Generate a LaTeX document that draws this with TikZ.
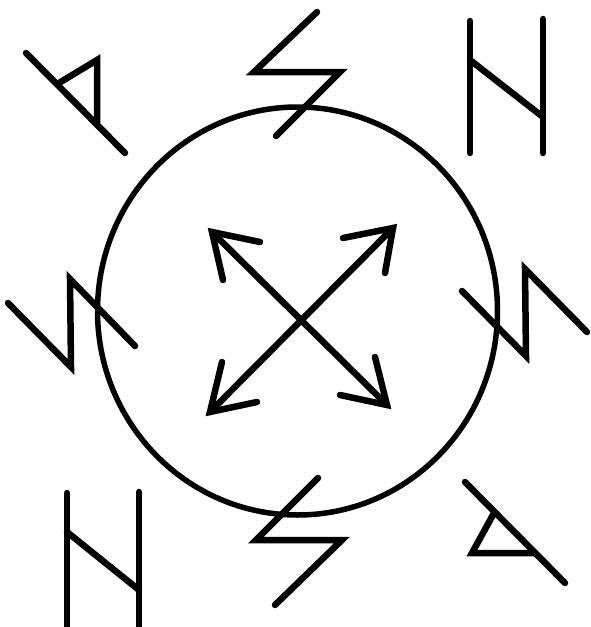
\documentclass[tikz,border=0pt]{standalone}
\begin{document}
\begin{tikzpicture}[x=1pt,y=-1pt,
  rune/.style={line width=6.5pt,line cap=round,line join=miter},
  ring/.style={line width=5.5pt}]
\useasboundingbox (0,0) rectangle (591,627);
% circle
\draw[ring] (297.5,311) ellipse [x radius=200, y radius=204];
% arrows
\draw[rune] (212,232) -- (387,405);
\draw[rune] (393,228) -- (210,412);
\draw[rune] (260,242) -- (212,232) -- (223,280);
\draw[rune] (343,238) -- (393,228) -- (385,273);
\draw[rune] (222,362) -- (210,412) -- (257,402);
\draw[rune] (375,357) -- (387,405) -- (340,395);
% top-left rune
\draw[rune] (26,53) -- (125,153);
\draw[rune] (59,83) -- (97,60) -- (97,123);
% top middle rune
\draw[rune] (317,12) -- (254,72) -- (340,72) -- (276,136);
% top-right rune
\draw[rune] (470,21) -- (470,153);
\draw[rune] (543,19) -- (543,153);
\draw[rune] (470,60) -- (543,117);
% left rune
\draw[rune] (8,303) -- (71,367) -- (70,279) -- (135,346);
% right rune
\draw[rune] (462,291) -- (526,356) -- (525,269) -- (587,332);
% bottom-left rune
\draw[rune] (67,493) -- (67,627);
\draw[rune] (139,492) -- (139,627);
\draw[rune] (67,532) -- (139,590);
% bottom middle rune
\draw[rune] (318,478) -- (256,540) -- (342,540) -- (275,605);
% bottom-right rune
\draw[rune] (465,482) -- (565,583);
\draw[rune] (494,513) -- (472,553) -- (535,553);
\end{tikzpicture}
\end{document}
